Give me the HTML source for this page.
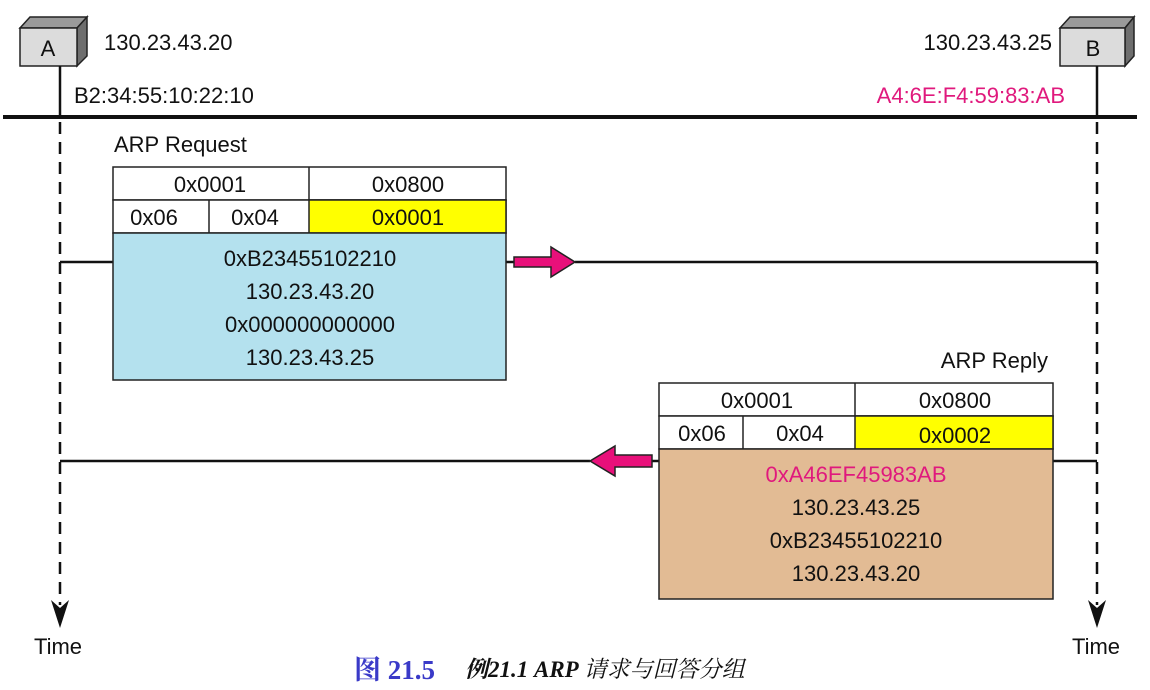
<!DOCTYPE html>
<html><head><meta charset="utf-8"><style>
html,body{margin:0;padding:0;background:#fff;}
svg{display:block;}
text{font-family:"Liberation Sans","Noto Sans CJK SC",sans-serif;font-size:22px;fill:#111;}
</style></head><body>
<svg width="1150" height="690" viewBox="0 0 1150 690" xmlns="http://www.w3.org/2000/svg">
<!-- Node A -->
<polygon points="20,28 30,17 87,17 77,28" fill="#9a9a9a" stroke="#222" stroke-width="1.5"/>
<polygon points="77,28 87,17 87,56 77,66" fill="#6e6e6e" stroke="#222" stroke-width="1.5"/>
<rect x="20" y="28" width="57" height="38" fill="#dcdcdc" stroke="#222" stroke-width="1.5"/>
<text x="48" y="56" text-anchor="middle">A</text>
<text x="104" y="50">130.23.43.20</text>
<text x="74" y="103">B2:34:55:10:22:10</text>
<!-- Node B -->
<polygon points="1060,28 1070,17 1134,17 1125,28" fill="#9a9a9a" stroke="#222" stroke-width="1.5"/>
<polygon points="1125,28 1134,17 1134,56 1125,66" fill="#6e6e6e" stroke="#222" stroke-width="1.5"/>
<rect x="1060" y="28" width="65" height="38" fill="#dcdcdc" stroke="#222" stroke-width="1.5"/>
<text x="1093" y="56" text-anchor="middle">B</text>
<text x="1052" y="50" text-anchor="end">130.23.43.25</text>
<text x="1065" y="103" text-anchor="end" style="fill:#e0197d">A4:6E:F4:59:83:AB</text>
<!-- vertical solid -->
<line x1="60" y1="66" x2="60" y2="118" stroke="#111" stroke-width="2.5"/>
<line x1="1097" y1="66" x2="1097" y2="118" stroke="#111" stroke-width="2.5"/>
<!-- bus -->
<line x1="3" y1="117" x2="1137" y2="117" stroke="#111" stroke-width="4"/>
<!-- dashed timelines -->
<line x1="60" y1="122" x2="60" y2="605" stroke="#111" stroke-width="2.5" stroke-dasharray="12,8"/>
<line x1="1097" y1="122" x2="1097" y2="605" stroke="#111" stroke-width="2.5" stroke-dasharray="12,8"/>
<polygon points="51,600 60,608 69,600 60,628" fill="#111"/>
<polygon points="1088,600 1097,608 1106,600 1097,628" fill="#111"/>
<text x="58" y="654" text-anchor="middle">Time</text>
<text x="1096" y="654" text-anchor="middle">Time</text>
<!-- request lines -->
<line x1="60" y1="262" x2="113" y2="262" stroke="#111" stroke-width="2.5"/>
<line x1="506" y1="262" x2="514" y2="262" stroke="#111" stroke-width="2.5"/>
<line x1="575" y1="262" x2="1097" y2="262" stroke="#111" stroke-width="2.5"/>
<polygon points="514,257 551,257 551,247 575,262 551,277 551,267 514,267" fill="#e8107a" stroke="#222" stroke-width="1.5"/>
<!-- request table -->
<text x="114" y="152">ARP Request</text>
<rect x="113" y="167" width="393" height="33" fill="#fff" stroke="#222" stroke-width="1.5"/>
<line x1="309" y1="167" x2="309" y2="233" stroke="#222" stroke-width="1.5"/>
<rect x="113" y="200" width="393" height="33" fill="#fff" stroke="#222" stroke-width="1.5"/>
<rect x="309" y="200" width="197" height="33" fill="#ffff00" stroke="#222" stroke-width="1.5"/>
<line x1="209" y1="200" x2="209" y2="233" stroke="#222" stroke-width="1.5"/>
<rect x="113" y="233" width="393" height="147" fill="#b4e1ee" stroke="#222" stroke-width="1.5"/>
<text x="210" y="192" text-anchor="middle">0x0001</text>
<text x="408" y="192" text-anchor="middle">0x0800</text>
<text x="154" y="225" text-anchor="middle">0x06</text>
<text x="255" y="225" text-anchor="middle">0x04</text>
<text x="408" y="225" text-anchor="middle">0x0001</text>
<text x="310" y="266" text-anchor="middle">0xB23455102210</text>
<text x="310" y="299" text-anchor="middle">130.23.43.20</text>
<text x="310" y="332" text-anchor="middle">0x000000000000</text>
<text x="310" y="365" text-anchor="middle">130.23.43.25</text>
<!-- reply lines -->
<line x1="60" y1="461" x2="590" y2="461" stroke="#111" stroke-width="2.5"/>
<line x1="652" y1="461" x2="659" y2="461" stroke="#111" stroke-width="2.5"/>
<line x1="1053" y1="461" x2="1097" y2="461" stroke="#111" stroke-width="2.5"/>
<polygon points="652,455 615,455 615,446 590,461 615,476 615,467 652,467" fill="#e8107a" stroke="#222" stroke-width="1.5"/>
<!-- reply table -->
<text x="1048" y="368" text-anchor="end">ARP Reply</text>
<rect x="659" y="383" width="394" height="33" fill="#fff" stroke="#222" stroke-width="1.5"/>
<line x1="855" y1="383" x2="855" y2="449" stroke="#222" stroke-width="1.5"/>
<rect x="659" y="416" width="394" height="33" fill="#fff" stroke="#222" stroke-width="1.5"/>
<rect x="855" y="416" width="198" height="33" fill="#ffff00" stroke="#222" stroke-width="1.5"/>
<line x1="743" y1="416" x2="743" y2="449" stroke="#222" stroke-width="1.5"/>
<rect x="659" y="449" width="394" height="150" fill="#e2bb94" stroke="#222" stroke-width="1.5"/>
<text x="757" y="408" text-anchor="middle">0x0001</text>
<text x="955" y="408" text-anchor="middle">0x0800</text>
<text x="702" y="441" text-anchor="middle">0x06</text>
<text x="800" y="441" text-anchor="middle">0x04</text>
<text x="955" y="443" text-anchor="middle">0x0002</text>
<text x="856" y="482" text-anchor="middle" style="fill:#e0197d">0xA46EF45983AB</text>
<text x="856" y="515" text-anchor="middle">130.23.43.25</text>
<text x="856" y="548" text-anchor="middle">0xB23455102210</text>
<text x="856" y="581" text-anchor="middle">130.23.43.20</text>
<!-- caption -->
<text x="354" y="679" style="font-family:'Liberation Serif','Noto Serif CJK SC',serif;font-size:27px;font-weight:bold;fill:#3a3ac8">图 21.5</text>
<text x="465" y="677" style="font-family:'Liberation Serif','Noto Serif CJK SC',serif;font-size:23px;font-style:italic;font-weight:bold;fill:#111">例21.1  ARP <tspan style="font-weight:normal">请求与回答分组</tspan></text>
</svg>
</body></html>
